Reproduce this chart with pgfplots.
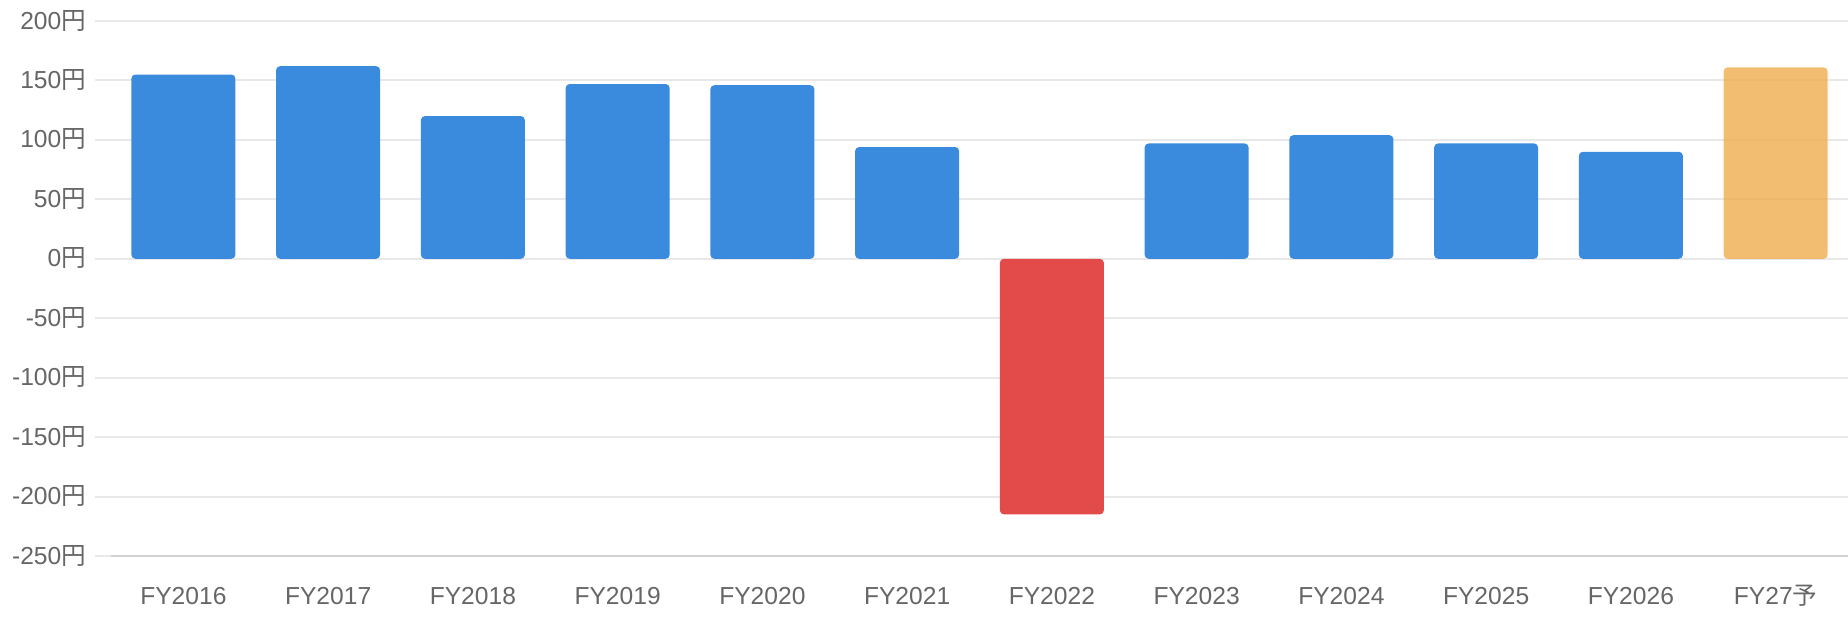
\documentclass[border=0pt]{standalone}
\usepackage{fontspec}
\setmainfont{Liberation Sans}
\newfontfamily\cjk{Noto Sans CJK JP}
\usepackage{pgfplots}
\usepackage{pgfplotstable}
\pgfplotsset{compat=1.18}
\usetikzlibrary{calc}
\definecolor{barblue}{HTML}{3A8BDE}
\definecolor{barred}{HTML}{E34B4A}
\definecolor{barorange}{HTML}{F0AD4E}
\definecolor{gridcol}{HTML}{E8E8E8}
\definecolor{basecol}{HTML}{D2D2D2}
\definecolor{labcol}{HTML}{666666}
\pgfplotstableread{
x y
0 155
1 162
2 120
3 147
4 146
5 94
7 97
8 104
9 97
10 90
}\blue
\pgfplotstableread{
x y
6 -215
}\red
\pgfplotstableread{
x y
11 161
}\orange
\begin{document}
\begin{tikzpicture}
\begin{axis}[name=ax, scale only axis, width=868.5pt, height=267.5pt,
  xmin=-0.5, xmax=11.5, ymin=-250, ymax=200,
  ytick={-250,-200,...,200},
  xtick={0,...,11},
  xticklabels={FY2016,FY2017,FY2018,FY2019,FY2020,FY2021,FY2022,FY2023,FY2024,FY2025,FY2026,FY27{\cjk 予}},
  /pgf/number format/assume math mode=true,
  yticklabel={\pgfmathprintnumber{\tick}{\cjk 円}},
  ybar, bar width=52pt, bar shift=0pt,
  axis lines*=left,
  y axis line style={draw=none},
  x axis line style={draw=basecol, line width=1pt},
  ymajorgrids, grid style={draw=gridcol, line width=1pt},
  major tick length=8pt, tick align=outside,
  ytick style={draw=gridcol, line width=1pt},
  xtick style={draw=none},
  tick label style={font=\fontsize{12.3}{14}\selectfont, text=labcol},
  xticklabel style={yshift=-3.5pt, text height=9pt, text depth=2.5pt},
  yticklabel style={xshift=-1pt, yshift=-0.8pt, text height=9pt, text depth=2.5pt},
]
\addplot[fill=barblue, draw=none, rounded corners=2pt] table[x=x,y=y] {\blue};
\addplot[fill=barred, draw=none, rounded corners=2pt] table[x=x,y=y] {\red};
\addplot[fill=barorange, fill opacity=0.8, draw=none, rounded corners=2pt] table[x=x,y=y] {\orange};
\end{axis}
\pgfresetboundingbox
\path[use as bounding box] ($(ax.south west)+(-55.5pt,-30pt)$) rectangle ($(ax.north east)+(0pt,10.5pt)$);
\end{tikzpicture}
\end{document}
